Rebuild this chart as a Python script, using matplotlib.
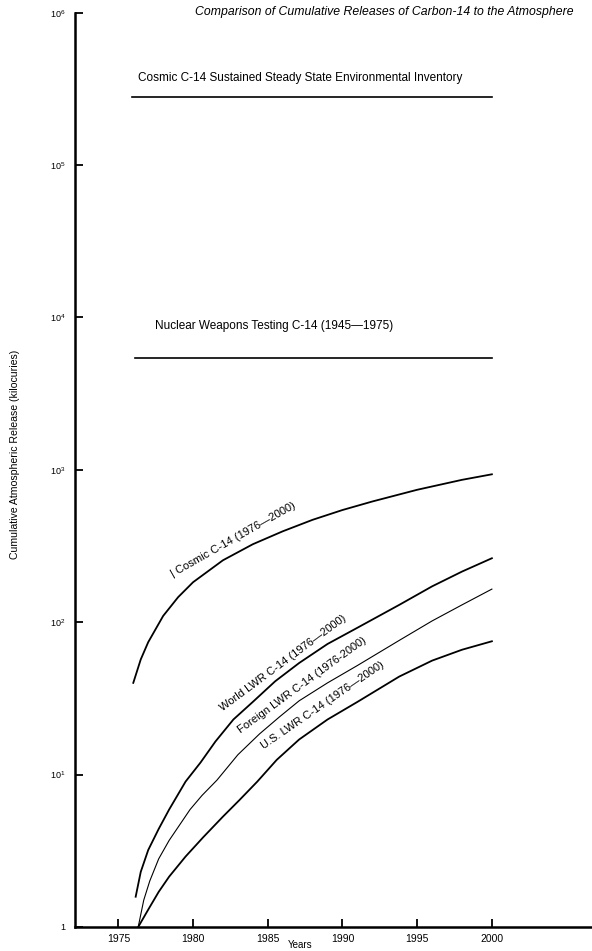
import matplotlib.pyplot as plt
import numpy as np

plt.rcParams['font.family'] = ['Liberation Sans', 'DejaVu Sans']
plt.rcParams['mathtext.fontset'] = 'custom'
plt.rcParams['mathtext.rm'] = 'Liberation Sans'
plt.rcParams['mathtext.it'] = 'Liberation Sans:italic'

# values (kilocuries)
cosmic_years = [1976.0, 1976.5, 1977.0, 1978.0, 1979.0, 1980.0, 1982.0, 1984.0, 1986.0,
                1988.0, 1990.0, 1992.0, 1995.0, 1998.0, 2000.0]
cosmic_vals = [40, 57, 74, 110, 146, 183, 255, 325, 395, 470, 545, 620, 740, 860, 935]

world_years = [1976.16, 1976.5, 1977.0, 1977.7, 1978.4, 1979.5, 1980.5, 1981.5, 1982.7,
               1984.0, 1985.5, 1987.1, 1989.0, 1991.0, 1993.8, 1996.0, 1998.0, 2000.0]
world_vals = [1.58, 2.3, 3.2, 4.4, 5.9, 9.0, 12, 16.5, 23, 30, 41, 54, 72, 92, 130, 172, 215, 263]

foreign_years = [1976.33, 1976.7, 1977.1, 1977.7, 1978.4, 1979.8, 1980.6, 1981.6, 1983.0,
                 1984.45, 1985.8, 1987.1, 1989.0, 1991.0, 1993.8, 1996.0, 1998.0, 2000.0]
foreign_vals = [1.0, 1.5, 2.0, 2.8, 3.7, 5.9, 7.3, 9.2, 13.5, 18.5, 24, 30.5, 40, 52, 76,
                102, 130, 165]

us_years = [1976.33, 1977.0, 1977.7, 1978.4, 1979.5, 1980.7, 1982.0, 1983.1, 1984.3, 1985.6,
            1987.1, 1989.0, 1991.0, 1993.8, 1996.0, 1998.0, 2000.0]
us_vals = [1.0, 1.3, 1.7, 2.14, 2.9, 3.9, 5.3, 6.8, 9.0, 12.5, 17, 23, 30, 44, 56, 66, 75]

steady_years = [1975.9, 2000.0]
steady_val = 2.8e5
weapons_years = [1976.1, 2000.0]
weapons_val = 5.4e3

year_ticks = [1975, 1980, 1985, 1990, 1995, 2000]
decade_ticks = [1, 1e1, 1e2, 1e3, 1e4, 1e5, 1e6]
decade_labels = ['1', r'$\mathregular{10^1}$', r'$\mathregular{10^2}$', r'$\mathregular{10^3}$',
                 r'$\mathregular{10^4}$', r'$\mathregular{10^5}$', r'$\mathregular{10^6}$']

fig = plt.figure(figsize=(5.92, 9.51), dpi=100)
ax = fig.add_axes([75 / 592, 1 - 927 / 951, 1 - 75 / 592, (927 - 12.7) / 951])

ax.set_yscale('log')
ax.set_xlim(1972.1, 2006.7)
ax.set_ylim(1, 1e6)

ax.plot(cosmic_years, cosmic_vals, color='black', lw=1.3)
ax.plot(world_years, world_vals, color='black', lw=1.3)
ax.plot(foreign_years, foreign_vals, color='black', lw=0.8)
ax.plot(us_years, us_vals, color='black', lw=1.3)
ax.plot(steady_years, [steady_val] * 2, color='black', lw=1.2)
ax.plot(weapons_years, [weapons_val] * 2, color='black', lw=1.2)

ax.text(1987.2, 3.7e5, 'Cosmic C-14 Sustained Steady State Environmental Inventory',
        ha='center', va='center', fontsize=8.5)
ax.text(1985.45, 8.8e3, 'Nuclear Weapons Testing C-14 (1945\u20141975)',
        ha='center', va='center', fontsize=8.5)

# curve labels sit just above their curves
ax.text(1982.7, 350, '| Cosmic C-14 (1976\u20142000)', rotation=29.5, rotation_mode='anchor',
        ha='center', va='center', fontsize=8)
ax.text(1986.0, 54, 'World LWR C-14 (1976\u20142000)', rotation=36.5, rotation_mode='anchor',
        ha='center', va='center', fontsize=8)
ax.text(1987.3, 38.5, 'Foreign LWR C-14 (1976-2000)', rotation=36, rotation_mode='anchor',
        ha='center', va='center', fontsize=8)
ax.text(1988.7, 28.5, 'U.S. LWR C-14 (1976\u20142000)', rotation=34.5, rotation_mode='anchor',
        ha='center', va='center', fontsize=8)

ax.spines['top'].set_visible(False)
ax.spines['right'].set_visible(False)
ax.spines['left'].set_linewidth(1.8)
ax.spines['bottom'].set_linewidth(1.8)

ax.set_xticks(year_ticks)
ax.set_xticklabels([str(y) for y in year_ticks], fontsize=7.5)
ax.set_yticks(decade_ticks)
ax.set_yticklabels(decade_labels, fontsize=6.5)
ax.minorticks_off()
ax.tick_params(axis='both', direction='in', length=6, width=1.3)
ax.tick_params(axis='y', pad=7)
ax.tick_params(axis='x', pad=5)

fig.text(15 / 592, 1 - 454 / 951, 'Cumulative Atmospheric Release (kilocuries)',
         rotation=90, ha='center', va='center', fontsize=7.6)
fig.text(300 / 592, 0.001, 'Years', ha='center', va='bottom', fontsize=7)
fig.text(574 / 592, 1 - 12 / 951, 'Comparison of Cumulative Releases of Carbon-14 to the Atmosphere',
         ha='right', va='center', fontsize=8.8, style='italic')

fig.savefig('out.png', dpi=100)
